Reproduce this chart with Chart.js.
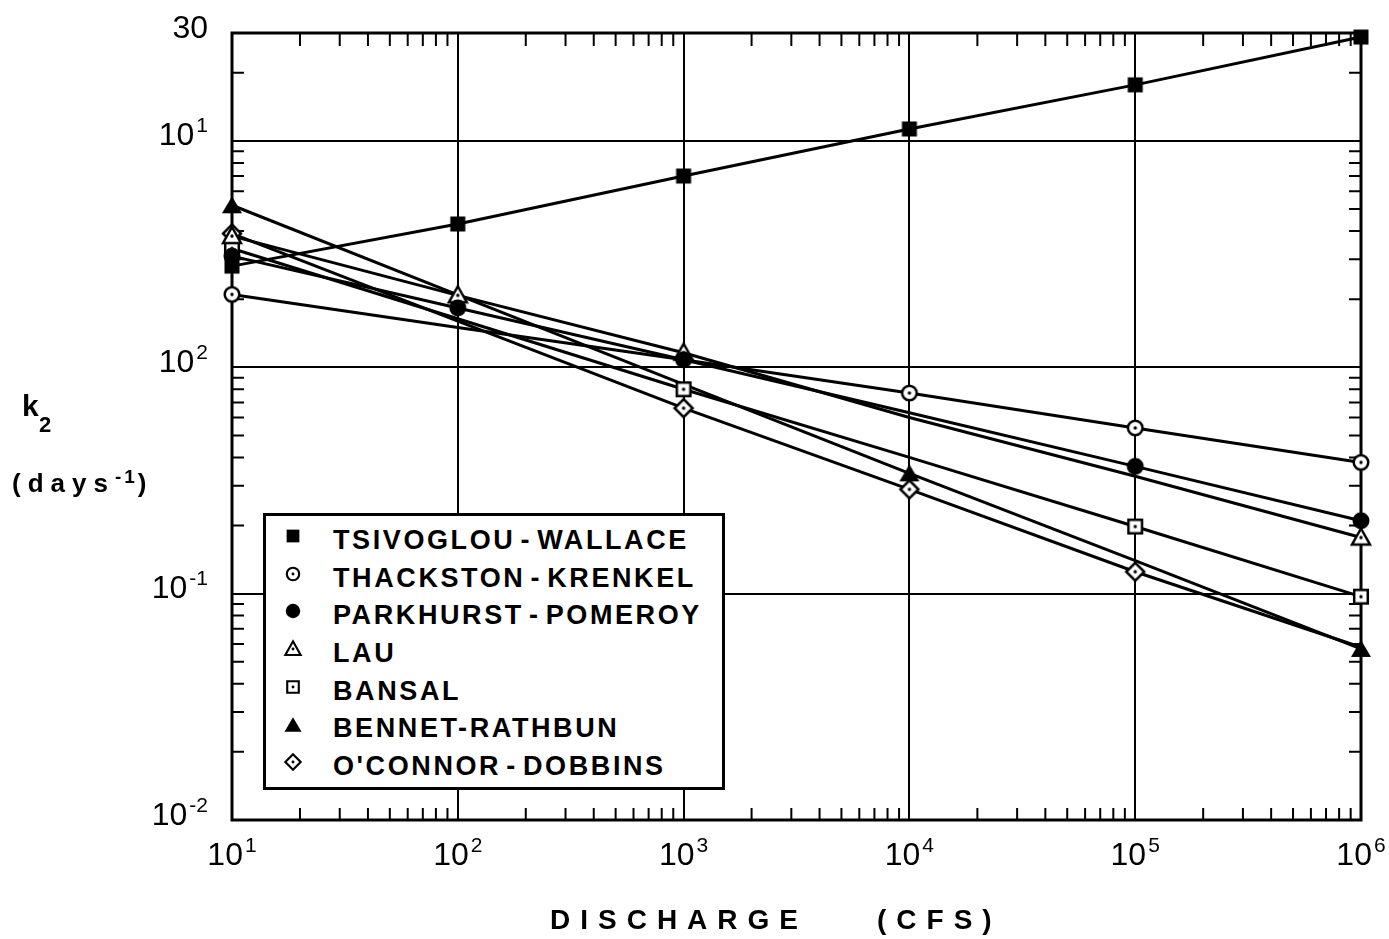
<!DOCTYPE html>
<html>
<head>
<meta charset="utf-8">
<title>Reaeration coefficient vs discharge</title>
<script src="https://cdn.jsdelivr.net/npm/chart.js@4.4.1/dist/chart.umd.min.js"></script>
<style>
  html, body { margin: 0; padding: 0; background: #fff; }
  #wrap { position: relative; width: 1389px; height: 939px; overflow: hidden; }
  #wrap canvas#chart { position: absolute; left: 0; top: 0; }
  .lbl { position: absolute; color: #000; white-space: pre; line-height: 1; font-family: "Liberation Sans", Arial, sans-serif; }
  #legend { position: absolute; left: 263px; top: 513px; width: 462px; height: 277px;
            box-sizing: border-box; border: 3px solid #000; background: #fff; }
  #legend .row { position: absolute; left: 67px; height: 27px; line-height: 1; white-space: pre;
                 font: bold 27px "Liberation Sans", Arial, sans-serif; letter-spacing: 2.6px; word-spacing: -5px; }
  #legend canvas { position: absolute; }
</style>
</head>
<body>
<div id="wrap">
  <canvas id="chart" width="1389" height="939"></canvas>
  <div class="lbl" style="left:22px;top:391px;font-weight:bold;font-size:30px;">k</div>
  <div class="lbl" style="left:39px;top:414px;font-weight:bold;font-size:22px;">2</div>
  <div class="lbl" style="left:12px;top:470px;font-weight:bold;font-size:26px;letter-spacing:7px;">(days<span style="font-size:19px;position:relative;top:-9px;letter-spacing:3px;">-1</span>)</div>
  <div class="lbl" style="left:550px;top:906px;font-weight:bold;font-size:28px;letter-spacing:10px;">DISCHARGE</div>
  <div class="lbl" style="left:877px;top:906px;font-weight:bold;font-size:28px;letter-spacing:10px;">(CFS)</div>
  <div id="legend"></div>
</div>
<script>
// discharge (cfs) and k2 (days^-1) for each reaeration formula
const discharge = [1e1, 1e2, 1e3, 1e4, 1e5, 1e6];
const tsivoglouWallace = [2.8, 4.3, 7.0, 11.3, 17.7, 28.8];
const thackstonKrenkel = [2.1, 1.5, 1.08, 0.77, 0.54, 0.38];
const parkhurstPomeroy = [3.1, 1.83, 1.08, 0.63, 0.365, 0.21];
const lau = [3.8, 2.08, 1.16, 0.6, 0.33, 0.177];
const bansal = [3.35, 1.64, 0.8, 0.4, 0.198, 0.097];
const bennetRathbun = [5.2, 2.09, 0.84, 0.34, 0.14, 0.057];
const oConnorDobbins = [3.9, 1.6, 0.66, 0.289, 0.125, 0.058];

const seriesNames = ['TSIVOGLOU - WALLACE', 'THACKSTON - KRENKEL', 'PARKHURST - POMEROY',
                     'LAU', 'BANSAL', 'BENNET-RATHBUN', "O'CONNOR - DOBBINS"];
const seriesValues = [tsivoglouWallace, thackstonKrenkel, parkhurstPomeroy,
                      lau, bansal, bennetRathbun, oConnorDobbins];

// axis labels: [base, superscript]
const xTickValues = [1e1, 1e2, 1e3, 1e4, 1e5, 1e6];
const xTickLabels = [['10', '1'], ['10', '2'], ['10', '3'], ['10', '4'], ['10', '5'], ['10', '6']];
const yTickValues = [0.01, 0.1, 1, 10, 30];
const yTickLabels = [['10', '-2'], ['10', '-1'], ['10', '2'], ['10', '1'], ['30', '']];

// marker symbol per series and the discharges where a symbol is plotted
const markerKinds = ['filledSquare', 'dotCircle', 'filledCircle', 'openTriangle',
                     'dotSquare', 'filledTriangle', 'dotDiamond'];
const markedAt = [
  [1e1, 1e2, 1e3, 1e4, 1e5, 1e6],
  [1e1, 1e4, 1e5, 1e6],
  [1e1, 1e2, 1e3, 1e5, 1e6],
  [1e1, 1e2, 1e3, 1e6],
  [1e1, 1e3, 1e5, 1e6],
  [1e1, 1e4, 1e6],
  [1e1, 1e3, 1e4, 1e5]
];

function makeMarker(kind, scale = 1) {
  const c = document.createElement('canvas');
  c.width = 24; c.height = 24;
  const g = c.getContext('2d');
  const m = 12;
  g.translate(m, m);
  g.scale(scale, scale);
  g.lineWidth = 2.5;
  g.strokeStyle = '#000';
  g.fillStyle = '#000';
  const dot = () => { g.fillStyle = '#000'; g.beginPath(); g.arc(0, 0, 1.7, 0, Math.PI * 2); g.fill(); };
  const open = () => { g.fillStyle = '#fff'; g.fill(); g.stroke(); dot(); };
  g.beginPath();
  switch (kind) {
    case 'filledSquare':
      g.fillRect(-7.5, -7.5, 15, 15);
      break;
    case 'dotCircle':
      g.arc(0, 0, 7.3, 0, Math.PI * 2);
      open();
      break;
    case 'filledCircle':
      g.arc(0, 0, 8.5, 0, Math.PI * 2);
      g.fill();
      break;
    case 'openTriangle':
      g.moveTo(0, -9); g.lineTo(9, 7); g.lineTo(-9, 7); g.closePath();
      open();
      break;
    case 'dotSquare':
      g.rect(-6.8, -6.8, 13.6, 13.6);
      open();
      break;
    case 'filledTriangle':
      g.moveTo(0, -9); g.lineTo(10, 8); g.lineTo(-10, 8); g.closePath();
      g.fill();
      break;
    case 'dotDiamond':
      g.moveTo(0, -9); g.lineTo(9, 0); g.lineTo(0, 9); g.lineTo(-9, 0); g.closePath();
      open();
      break;
  }
  return c;
}

function minorValues(min, max) {
  const out = [];
  for (let e = Math.floor(Math.log10(min)); e <= Math.ceil(Math.log10(max)); e++) {
    for (let k = 2; k <= 9; k++) {
      const v = k * Math.pow(10, e);
      if (v > min && v < max) out.push(v);
    }
  }
  return out;
}

const datasets = seriesNames.map((name, i) => ({
  label: name,
  data: discharge.map((q, j) => ({ x: q, y: seriesValues[i][j] })),
  borderColor: '#000',
  borderWidth: 3,
  tension: 0,
  fill: false,
  clip: false,
  pointStyle: makeMarker(markerKinds[i]),
  pointRadius: discharge.map(q => markedAt[i].includes(q) ? 6 : 0)
}));

const BASE_FONT = '32px "Liberation Sans", Arial, sans-serif';
const SUP_FONT = '21px "Liberation Sans", Arial, sans-serif';

function drawLabel(ctx, parts, cx, baseline, align) {
  ctx.font = BASE_FONT;
  const wb = ctx.measureText(parts[0]).width;
  ctx.font = SUP_FONT;
  const ws = parts[1] ? ctx.measureText(parts[1]).width + 2 : 0;
  const total = wb + ws;
  const start = align === 'right' ? cx - total : cx - total / 2;
  ctx.font = BASE_FONT;
  ctx.fillText(parts[0], start, baseline);
  if (parts[1]) {
    ctx.font = SUP_FONT;
    ctx.fillText(parts[1], start + wb + 2, baseline - 23 + 10);
  }
}

const frameAndTicks = {
  id: 'frameAndTicks',
  beforeDatasetsDraw(chart) {
    const { ctx, chartArea: a, scales: { x, y } } = chart;
    ctx.save();
    ctx.strokeStyle = '#000';
    ctx.lineWidth = 2;
    ctx.beginPath();
    for (const v of minorValues(10, 1e6)) {
      const px = x.getPixelForValue(v);
      ctx.moveTo(px, a.top); ctx.lineTo(px, a.top + 13);
      ctx.moveTo(px, a.bottom); ctx.lineTo(px, a.bottom - 12);
    }
    for (const v of minorValues(0.01, 30)) {
      const py = y.getPixelForValue(v);
      ctx.moveTo(a.left, py); ctx.lineTo(a.left + 12, py);
      ctx.moveTo(a.right, py); ctx.lineTo(a.right - 12, py);
    }
    ctx.stroke();
    ctx.lineWidth = 3;
    ctx.strokeRect(a.left, a.top, a.right - a.left, a.bottom - a.top);
    ctx.restore();
  },
  afterDraw(chart) {
    const { ctx, chartArea: a, scales: { x, y } } = chart;
    ctx.save();
    ctx.fillStyle = '#000';
    ctx.textBaseline = 'alphabetic';
    xTickValues.forEach((v, i) => {
      drawLabel(ctx, xTickLabels[i], x.getPixelForValue(v), a.bottom + 45, 'center');
    });
    yTickValues.forEach((v, i) => {
      drawLabel(ctx, yTickLabels[i], a.left - 24, y.getPixelForValue(v) - 7 + 11.5, 'right');
    });
    ctx.restore();
  }
};

const decadeTicks = values => scale => { scale.ticks = values.map(v => ({ value: v })); };

new Chart(document.getElementById('chart'), {
  type: 'line',
  data: { datasets },
  options: {
    responsive: false,
    animation: false,
    events: [],
    layout: { padding: { left: 232, top: 33, right: 28, bottom: 119 } },
    scales: {
      x: {
        type: 'logarithmic',
        min: 10,
        max: 1e6,
        afterBuildTicks: decadeTicks(xTickValues),
        ticks: { display: false },
        border: { display: false },
        grid: { color: '#000', lineWidth: 2, drawTicks: false }
      },
      y: {
        type: 'logarithmic',
        min: 0.01,
        max: 30,
        afterBuildTicks: decadeTicks(yTickValues),
        ticks: { display: false },
        border: { display: false },
        grid: { color: '#000', lineWidth: 2, drawTicks: false }
      }
    },
    plugins: {
      legend: { display: false },
      tooltip: { enabled: false }
    }
  },
  plugins: [frameAndTicks]
});

// legend box drawn over the lower left of the plot
const legend = document.getElementById('legend');
seriesNames.forEach((name, i) => {
  const cy = 22 + i * 37.7;
  const m = makeMarker(markerKinds[i], 0.85);
  m.style.left = (27 - m.width / 2) + 'px';
  m.style.top = (cy - 2 - m.height / 2) + 'px';
  legend.appendChild(m);
  const row = document.createElement('div');
  row.className = 'row';
  row.style.top = (cy - 13.2) + 'px';
  row.textContent = name;
  legend.appendChild(row);
});
</script>
</body>
</html>
